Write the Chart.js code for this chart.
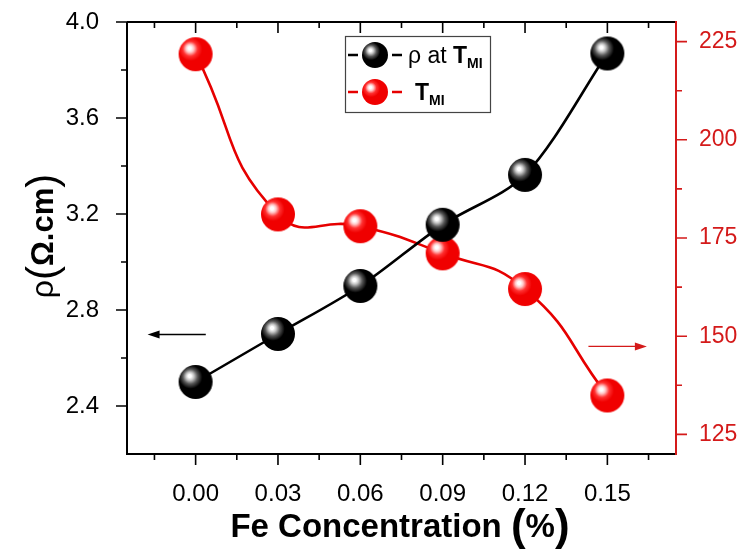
<!DOCTYPE html>
<html><head><meta charset="utf-8">
<script src="https://cdn.jsdelivr.net/npm/chart.js@4.4.1/dist/chart.umd.min.js"></script>
<style>html,body{margin:0;padding:0;background:#fff;}#wrap{width:740px;height:552px;}</style>
</head><body><div id="wrap"><canvas id="c" width="740" height="552"></canvas></div>
<script>
// ---- data ----
const concentrations = [0.00, 0.03, 0.06, 0.09, 0.12, 0.15];
const resistivity = [2.50, 2.70, 2.90, 3.155, 3.363, 3.869];
const tMI = [221.8, 181.0, 178.0, 171.1, 162.0, 134.9];
const xTicks = [-0.015, 0, 0.015, 0.03, 0.045, 0.06, 0.075, 0.09, 0.105, 0.12, 0.135, 0.15, 0.165];
const xTickLabels = ['', '0.00', '', '0.03', '', '0.06', '', '0.09', '', '0.12', '', '0.15', ''];
const leftTicks = [2.4, 2.6, 2.8, 3.0, 3.2, 3.4, 3.6, 3.8, 4.0];
const leftTickLabels = ['2.4', '', '2.8', '', '3.2', '', '3.6', '', '4.0'];
const rightTicks = [125, 137.5, 150, 162.5, 175, 187.5, 200, 212.5, 225];
const rightTickLabels = ['125', '', '150', '', '175', '', '200', '', '225'];
const xRange = [-0.025, 0.175];
const leftRange = [2.2, 4.0];
const rightRange = [120, 230];
// arrows pointing to the axes: [xStart, xEnd], y value
const arrowLeftX = [0.0037, -0.0175], arrowLeftY = 2.698;
const arrowRightX = [0.1431, 0.1644], arrowRightY = 147.4;

const RED = '#e60000', AXRED = '#d41a1a';
const FONT = '"Liberation Sans", Arial, sans-serif';

function sphere(r, light, mid, dark) {
  const c = document.createElement('canvas');
  c.width = c.height = 2 * r + 2;
  const g = c.getContext('2d');
  const cx = r + 1, cy = r + 1;
  const grad = g.createRadialGradient(cx - r * 0.36, cy - r * 0.36, 0, cx - r * 0.25, cy - r * 0.25, r * 1.15);
  grad.addColorStop(0, '#ffffff');
  grad.addColorStop(0.08, '#ffffff');
  grad.addColorStop(0.2, light);
  grad.addColorStop(0.38, mid);
  grad.addColorStop(0.6, dark);
  grad.addColorStop(1, dark);
  g.fillStyle = grad;
  g.beginPath(); g.arc(cx, cy, r, 0, Math.PI * 2); g.fill();
  return c;
}
const blackBall = sphere(17, '#c8c8c8', '#555555', '#000000');
const redBall = sphere(17, '#ffc8c8', '#ff3030', '#f00000');
const blackBallS = sphere(13, '#c8c8c8', '#555555', '#000000');
const redBallS = sphere(13, '#ffc8c8', '#ff3030', '#f00000');

function zeroPad(s) { s.paddingTop = 0; s.paddingBottom = 0; s.paddingLeft = 0; s.paddingRight = 0; }

const decor = {
  id: 'decor',
  beforeDatasetsDraw(chart) {
    const ctx = chart.ctx, a = chart.chartArea;
    const x = chart.scales.x, yl = chart.scales.y, yr = chart.scales.y2;
    ctx.save();
    ctx.lineWidth = 2;
    ctx.strokeStyle = '#000';
    ctx.beginPath();
    ctx.moveTo(a.left, a.top); ctx.lineTo(a.left, a.bottom); ctx.lineTo(a.right, a.bottom);
    ctx.moveTo(a.left, a.top); ctx.lineTo(a.right, a.top);
    ctx.stroke();
    ctx.lineWidth = 1.6;
    ctx.beginPath();
    x.ticks.forEach((t, i) => {
      const px = x.getPixelForValue(t.value);
      const L = xTickLabels[i] ? 11 : 6;
      ctx.moveTo(px, a.bottom); ctx.lineTo(px, a.bottom + L);
      ctx.moveTo(px, a.top); ctx.lineTo(px, a.top + L);
    });
    yl.ticks.forEach((t, i) => {
      const py = yl.getPixelForValue(t.value);
      const L = leftTickLabels[i] ? 11 : 6;
      ctx.moveTo(a.left, py); ctx.lineTo(a.left - L, py);
    });
    ctx.stroke();
    ctx.strokeStyle = AXRED;
    ctx.lineWidth = 2;
    ctx.beginPath(); ctx.moveTo(a.right, a.top - 1); ctx.lineTo(a.right, a.bottom + 1); ctx.stroke();
    ctx.lineWidth = 1.6;
    ctx.beginPath();
    yr.ticks.forEach((t, i) => {
      const py = yr.getPixelForValue(t.value);
      const L = rightTickLabels[i] ? 11 : 6;
      ctx.moveTo(a.right, py); ctx.lineTo(a.right + L, py);
    });
    ctx.stroke();
    function arrow(x1, x2, py, col) {
      const p1 = x.getPixelForValue(x1), p2 = x.getPixelForValue(x2);
      const dir = Math.sign(p2 - p1);
      ctx.strokeStyle = col; ctx.fillStyle = col; ctx.lineWidth = 1.3;
      ctx.beginPath(); ctx.moveTo(p1, py); ctx.lineTo(p2 - dir * 8, py); ctx.stroke();
      ctx.beginPath(); ctx.moveTo(p2, py); ctx.lineTo(p2 - dir * 12, py - 4); ctx.lineTo(p2 - dir * 12, py + 4); ctx.closePath(); ctx.fill();
    }
    arrow(arrowLeftX[0], arrowLeftX[1], yl.getPixelForValue(arrowLeftY), '#000');
    arrow(arrowRightX[0], arrowRightX[1], yr.getPixelForValue(arrowRightY), AXRED);
    ctx.restore();
  },
  afterDraw(chart) {
    const ctx = chart.ctx;
    ctx.save();
    const parts = [
      ['Fe Concentration ', 'bold 33px ' + FONT, 0],
      ['(', 'bold 44px ' + FONT, 3],
      ['%', 'bold 33px ' + FONT, 0],
      [')', 'bold 44px ' + FONT, 3]
    ];
    function drawParts(ps, cx, base) {
      let w = 0;
      ps.forEach(p => { ctx.font = p[1]; w += ctx.measureText(p[0]).width; });
      let px = cx - w / 2;
      ctx.textBaseline = 'alphabetic'; ctx.textAlign = 'left';
      ps.forEach(p => { ctx.font = p[1]; ctx.fillText(p[0], px, base + p[2]); px += ctx.measureText(p[0]).width; });
    }
    ctx.fillStyle = '#000';
    drawParts(parts, 400, 537);
    ctx.save();
    ctx.translate(53, 236);
    ctx.rotate(-Math.PI / 2);
    drawParts([
      ['ρ', '32px ' + FONT, 0],
      ['(', '42px ' + FONT, 3],
      ['Ω.cm', 'bold 31px ' + FONT, 0],
      [')', '42px ' + FONT, 3]
    ], 0, 0);
    ctx.restore();
    ctx.strokeStyle = '#444'; ctx.lineWidth = 1.2;
    ctx.strokeRect(345.5, 36.5, 145, 76);
    function entry(y, col, ball, pieces) {
      ctx.strokeStyle = col; ctx.lineWidth = 2.5;
      ctx.beginPath(); ctx.moveTo(348, y); ctx.lineTo(358, y); ctx.moveTo(392, y); ctx.lineTo(402, y); ctx.stroke();
      ctx.drawImage(ball, 375 - ball.width / 2, y - ball.height / 2);
      let px = pieces.x;
      ctx.fillStyle = '#000'; ctx.textBaseline = 'alphabetic'; ctx.textAlign = 'left';
      pieces.list.forEach(p => { ctx.font = p[1]; ctx.fillText(p[0], px, y + 8 + p[2]); px += ctx.measureText(p[0]).width; });
    }
    entry(55, '#000', blackBallS, { x: 408, list: [['ρ at ', '23px ' + FONT, 0], ['T', 'bold 23px ' + FONT, 0], ['MI', 'bold 14px ' + FONT, 5]] });
    entry(92, RED, redBallS, { x: 415, list: [['T', 'bold 23px ' + FONT, 0], ['MI', 'bold 14px ' + FONT, 5]] });
    ctx.restore();
  }
};

new Chart(document.getElementById('c'), {
  type: 'line',
  data: {
    datasets: [
      {
        label: 'ρ at TMI',
        data: concentrations.map((c, i) => ({ x: c, y: resistivity[i] })),
        yAxisID: 'y',
        borderColor: '#000', borderWidth: 2.6,
        tension: 0.3,
        pointStyle: blackBall, pointRadius: 17, pointHoverRadius: 17
      },
      {
        label: 'TMI',
        data: concentrations.map((c, i) => ({ x: c, y: tMI[i] })),
        yAxisID: 'y2',
        borderColor: RED, borderWidth: 2.6,
        tension: 0.5,
        pointStyle: redBall, pointRadius: 17, pointHoverRadius: 17
      }
    ]
  },
  options: {
    responsive: false, animation: false, devicePixelRatio: 1,
    layout: { padding: { top: 22, left: 0, right: 0, bottom: 0 } },
    plugins: { legend: { display: false }, tooltip: { enabled: false } },
    scales: {
      x: {
        type: 'linear', position: 'bottom', min: xRange[0], max: xRange[1],
        afterBuildTicks: s => { s.ticks = xTicks.map(v => ({ value: v })); },
        afterFit: s => { s.height = 98; zeroPad(s); },
        grid: { display: false }, border: { display: false },
        ticks: { autoSkip: false, maxRotation: 0, padding: 18, color: '#000', font: { family: FONT, size: 24 },
          callback: (v, i) => xTickLabels[i] }
      },
      y: {
        type: 'linear', position: 'left', min: leftRange[0], max: leftRange[1],
        afterBuildTicks: s => { s.ticks = leftTicks.map(v => ({ value: v })); },
        afterFit: s => { s.width = 127; zeroPad(s); },
        grid: { display: false }, border: { display: false },
        ticks: { autoSkip: false, padding: 20, color: '#000', font: { family: FONT, size: 24 },
          callback: (v, i) => leftTickLabels[i] }
      },
      y2: {
        type: 'linear', position: 'right', min: rightRange[0], max: rightRange[1],
        afterBuildTicks: s => { s.ticks = rightTicks.map(v => ({ value: v })); },
        afterFit: s => { s.width = 64; zeroPad(s); },
        grid: { display: false }, border: { display: false },
        ticks: { autoSkip: false, padding: 15, color: AXRED, font: { family: FONT, size: 23 },
          callback: (v, i) => rightTickLabels[i] }
      }
    }
  },
  plugins: [decor]
});
</script></body></html>
